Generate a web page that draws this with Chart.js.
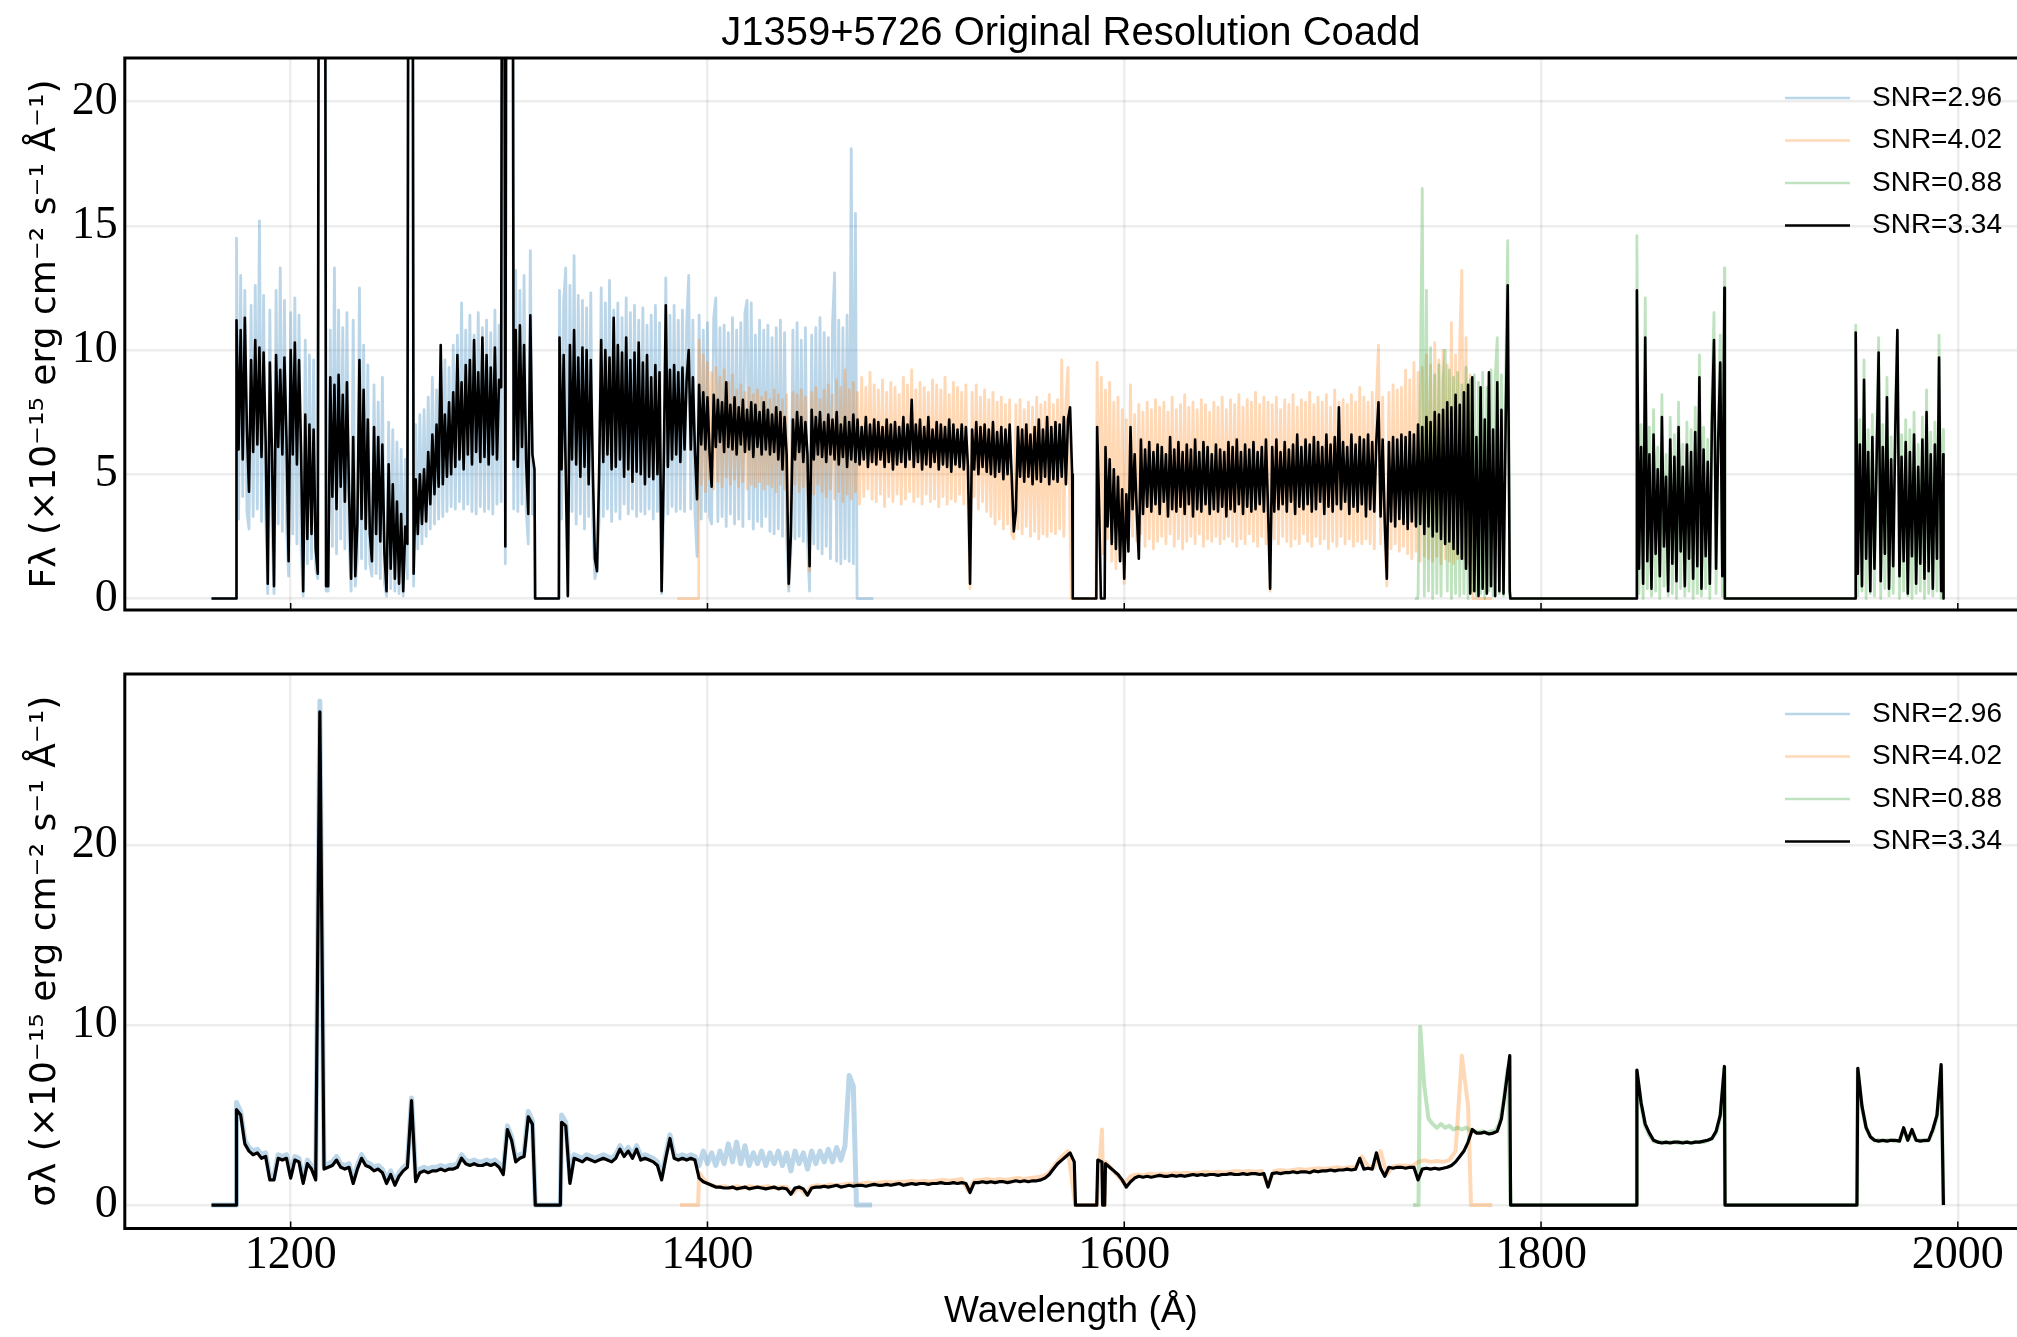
<!DOCTYPE html>
<html>
<head>
<meta charset="utf-8">
<script src="https://cdn.jsdelivr.net/npm/chart.js@4.4.0/dist/chart.umd.min.js"></script>
<style>
  html, body { margin: 0; padding: 0; background: #fff; }
  body { width: 2017px; height: 1337px; position: relative; overflow: hidden; }
  #fluxBox { position: absolute; left: 0; top: 0; width: 2017px; height: 640px; }
  #errBox { position: absolute; left: 0; top: 640px; width: 2017px; height: 697px; }
</style>
</head>
<body>
<div id="fluxBox"><canvas id="flux" width="2017" height="640"></canvas></div>
<div id="errBox"><canvas id="err" width="2017" height="697"></canvas></div>
<script>
// labels, ticks, colours
const legendLabels = ['SNR=2.96', 'SNR=4.02', 'SNR=0.88', 'SNR=3.34'];
const seriesColors = ['rgba(31,119,180,0.3)', 'rgba(255,127,14,0.3)', 'rgba(44,160,44,0.3)', '#000000'];
const xTicks = [1200, 1400, 1600, 1800, 2000];
const fluxTicks = [0, 5, 10, 15, 20];
const errTicks = [0, 10, 20];

// ---------- flux, 1 A sampling ----------
const fluxBlackA = [11.2, 6.0, 10.8, 5.6, 11.3, 6.8, 4.3, 9.6, 5.9, 10.4,
  6.2, 10.1, 5.7, 9.9, 6.3, 0.6, 9.5, 6.0, 0.5, 9.8,
  6.1, 9.2, 5.8, 9.7, 6.4, 1.5, 10.0, 5.8, 10.3, 5.4,
  9.6, 5.9, 0.3, 7.4, 2.4, 7.0, 2.6, 6.8, 2.0, 1.0,
  60, 60, 60, 0.5, 0.5, 8.9, 4.1, 8.6, 3.6, 9.0,
  4.5, 8.2, 3.9, 8.7, 4.3, 0.8, 6.5, 0.9, 3.0, 9.6,
  3.2, 8.4, 2.8, 7.2, 2.6, 1.5, 6.9, 2.6, 6.5, 2.3,
  6.2, 1.8, 0.3, 5.4, 1.2, 4.6, 0.8, 3.9, 0.6, 3.4,
  0.3, 2.9, 2.2, 60, 60, 1.0, 4.8, 2.6, 5.0, 3.0,
  5.2, 3.1, 5.9, 3.8, 6.6, 4.2, 7.0, 4.5, 10.2, 4.6,
  7.4, 4.9, 7.9, 5.0, 8.3, 5.3, 9.8, 5.6, 8.7, 5.2,
  9.4, 5.8, 9.6, 5.4, 10.4, 5.9, 9.1, 5.5, 10.5, 5.7,
  9.8, 5.4, 9.3, 5.8, 10.1, 5.6, 8.8, 8.5, 60, 2.1,
  60, 60, 60, 5.6, 10.8, 5.3, 11.0, 6.1, 10.2, 5.5,
  3.4, 11.4, 5.8, 5.2];
const fluxBlackB = [10.5, 5.2, 9.8, 5.0, 0.1, 10.2, 5.6, 10.8, 5.4, 9.7,
  4.9, 10.1, 5.3, 10.0, 4.6, 9.6, 5.1, 1.6, 1.1, 5.0,
  10.4, 5.5, 10.0, 5.8, 9.7, 5.2, 11.3, 5.3, 10.2, 5.6,
  9.9, 4.9, 10.5, 5.2, 9.6, 4.7, 9.9, 5.1, 10.3, 5.0,
  9.5, 4.6, 9.8, 4.9, 8.9, 4.8, 9.4, 5.0, 9.1, 0.3,
  5.2, 11.8, 5.3, 9.2, 5.6, 9.4, 5.8, 9.1, 5.5, 9.3,
  6.0, 8.8, 10.0, 6.0, 8.9, 5.9, 4.0, 8.6, 6.2, 8.3,
  6.0, 8.1, 5.9, 4.5, 8.2, 6.1, 8.0, 6.3, 7.9, 5.9,
  8.7, 6.1, 7.8, 6.0, 8.1, 5.8, 7.7, 6.2, 8.0, 5.9,
  7.6, 6.0, 7.9, 5.7, 7.8, 6.1, 7.5, 5.8, 7.9, 6.0,
  7.6, 5.8, 7.4, 5.9, 7.7, 5.6, 7.5, 5.2, 7.3, 5.8,
  0.6, 2.5, 7.2, 5.6, 7.5, 5.9, 7.3, 5.5, 7.1, 5.8,
  1.3, 7.6, 5.6, 7.3, 5.8, 7.5, 5.7, 7.1, 5.5, 7.4,
  5.8, 7.2, 5.6, 7.5, 5.4, 7.0, 5.7, 7.3, 5.3, 7.1,
  5.6, 7.4, 5.5, 7.2, 5.4, 6.9, 5.6, 7.3, 5.3, 7.0,
  5.5, 7.2, 5.4, 7.1, 5.6, 6.9, 5.3, 7.2, 5.5, 7.0,
  5.2, 7.1, 5.4, 6.9, 5.5, 7.3, 5.3, 7.0, 5.6, 8.0,
  5.3, 7.0, 5.5, 7.2, 5.2, 6.9, 5.4, 7.3, 5.3, 6.8,
  5.5, 7.1, 5.2, 7.0, 5.4, 6.9, 5.3, 7.2, 5.1, 7.0,
  5.4, 6.8, 5.3, 7.0, 5.2, 6.9, 5.3, 0.6, 6.8, 5.2,
  7.1, 5.0, 6.9, 5.3, 7.0, 5.1, 6.8, 5.0, 7.1, 4.9,
  6.7, 5.1, 6.9, 4.8, 6.8, 5.0, 7.0, 4.9, 2.7, 3.5,
  6.9, 4.9, 6.8, 4.7, 7.0, 4.9, 6.6, 4.6, 6.9, 4.8,
  7.2, 4.7, 6.8, 4.9, 7.3, 4.6, 6.9, 4.8, 7.1, 4.7,
  7.0, 4.9, 7.3, 4.6, 7.2, 7.7, 5.0];
const fluxBlackBlip = [6.9, 3.5];
const fluxBlackC = [6.1, 2.9, 5.6, 2.2, 5.2, 2.0, 4.9, 1.5, 4.4, 0.8,
  4.2, 1.9, 6.9, 3.6, 5.8, 3.5, 1.6, 6.4, 3.4, 6.0,
  3.7, 6.3, 3.5, 5.9, 3.8, 6.2, 3.4, 6.1, 3.9, 5.8,
  3.3, 6.5, 3.6, 6.0, 3.5, 6.3, 3.7, 5.9, 3.4, 6.2,
  3.8, 6.0, 3.3, 6.4, 3.6, 5.9, 3.5, 6.3, 3.8, 6.1,
  3.4, 5.8, 3.6, 6.2, 3.5, 6.0, 3.7, 5.9, 3.3, 6.3,
  3.6, 6.1, 3.5, 6.4, 3.8, 5.9, 3.4, 6.2, 3.7, 6.0,
  3.5, 6.3, 3.6, 5.9, 3.8, 6.1, 3.5, 6.4, 3.6, 0.4,
  6.1, 3.5, 6.4, 3.6, 5.9, 3.8, 6.3, 3.5, 6.0, 3.9,
  6.2, 3.4, 6.6, 3.7, 6.1, 3.6, 6.4, 3.8, 6.2, 3.5,
  6.5, 3.6, 6.3, 3.9, 6.1, 3.4, 6.6, 3.7, 6.2, 3.5,
  6.5, 3.8, 7.7, 3.6, 6.3, 3.9, 6.1, 3.4, 6.6, 3.7,
  6.2, 3.5, 6.5, 3.8, 6.4, 3.3, 6.6, 3.6, 6.3, 3.5,
  6.4, 7.9, 3.3, 6.4, 3.1, 0.8, 6.3, 3.1, 6.5, 2.9,
  6.4, 3.2, 6.6, 3.0, 6.5, 2.8, 6.7, 3.1, 6.6, 2.9,
  7.0, 3.0, 6.9, 2.6, 7.3, 2.9, 7.1, 2.5, 7.5, 2.7,
  7.4, 2.4, 7.6, 2.2, 7.9, 2.3, 7.7, 2.0, 8.2, 1.8,
  7.8, 1.6, 8.3, 1.2, 8.6, 0.2, 8.9, 0.3, 6.5, 0.1,
  8.5, 0.4, 7.2, 0.2, 9.1, 0.5, 6.8, 0.1, 8.7, 0.3,
  7.6, 0.2, 6.9, 12.6, 0.3];
const fluxBlackD = [12.4, 1.2, 6.1, 0.6, 10.5, 1.5, 5.8, 0.4, 6.6, 1.8, 5.2, 0.9, 7.3, 2.1, 4.9,
  0.3, 6.4, 1.4, 5.7, 0.7, 6.9, 1.9, 5.3, 0.5, 6.2, 1.6, 5.9, 0.8, 6.7, 1.3,
  8.9, 0.4, 6.0, 1.7, 5.5, 0.6, 7.1, 10.4, 1.2, 6.3, 9.5, 0.9, 12.5];
const fluxBlackE = [10.7, 1.0, 6.2, 0.5, 8.8, 1.6, 5.9, 0.3, 6.5, 1.2, 5.4, 9.9, 0.7, 6.1, 1.8,
  8.1, 0.4, 5.6, 1.3, 6.8, 10.8, 0.9, 5.7, 1.5, 6.3, 0.2, 5.9, 1.7, 6.6, 0.6,
  5.3, 1.4, 6.4, 0.8, 7.5, 1.1, 5.8, 0.4, 6.2, 1.6, 9.7, 0.3, 5.8];

const fluxBlueA = [14.5, 3.2, 13.0, 4.1, 12.4, 3.5, 2.8, 11.8, 3.3, 12.6,
  3.6, 15.2, 3.1, 12.2, 3.4, 0.2, 11.6, 2.9, 0.2, 12.4,
  3.0, 13.3, 2.7, 12.0, 2.9, 0.9, 11.5, 2.6, 12.1, 2.2,
  11.4, 2.0, 0.1, 10.4, 1.4, 9.8, 1.6, 9.6, 1.2, 0.8,
  60, 60, 60, 0.3, 0.3, 10.8, 2.1, 13.3, 1.8, 11.6,
  2.4, 10.9, 2.0, 11.5, 2.3, 0.3, 11.2, 0.5, 1.6, 12.5,
  1.6, 10.2, 1.2, 9.4, 1.4, 0.9, 8.6, 1.0, 7.9, 0.8,
  8.9, 0.6, 0.1, 7.1, 0.4, 6.8, 0.3, 6.3, 0.2, 6.0,
  0.1, 5.6, 0.8, 60, 60, 0.5, 7.0, 2.0, 7.4, 2.2,
  7.6, 2.5, 8.1, 2.8, 8.9, 3.0, 8.4, 3.2, 9.2, 3.3,
  9.6, 3.5, 9.3, 3.7, 10.2, 3.6, 10.6, 3.9, 11.9, 3.6,
  10.8, 3.8, 11.4, 3.5, 10.6, 3.4, 11.5, 3.7, 10.9, 3.5,
  11.2, 3.6, 10.7, 3.4, 11.6, 3.8, 11.0, 3.9, 60, 1.4,
  60, 60, 60, 3.6, 13.2, 3.5, 12.4, 3.8, 13.0, 3.6,
  2.2, 14.0, 3.4, 3.8];
const fluxBlueB = [12.4, 3.2, 12.0, 13.3, 0.1, 12.6, 3.5, 13.8, 3.0, 12.2,
  3.4, 12.0, 2.8, 11.7, 3.3, 12.3, 2.9, 0.8, 1.2, 3.1,
  12.5, 3.3, 11.9, 3.6, 12.8, 3.1, 11.6, 3.5, 11.9, 3.2,
  11.3, 3.8, 12.1, 3.4, 11.5, 3.6, 11.8, 3.3, 11.2, 3.5,
  11.7, 3.4, 11.0, 3.6, 11.4, 3.2, 11.8, 3.5, 11.1, 0.2,
  3.5, 12.9, 3.4, 11.4, 3.7, 11.8, 3.5, 11.2, 3.6, 11.6,
  3.5, 11.0, 13.0, 3.6, 11.2, 3.4, 1.7, 11.4, 3.2, 10.8,
  3.5, 11.1, 3.3, 3.0, 11.3, 12.1, 3.1, 10.9, 3.3, 11.0,
  2.9, 10.7, 3.4, 11.3, 3.0, 10.8, 3.2, 11.1, 2.9, 11.5,
  12.0, 3.2, 11.9, 2.8, 10.6, 3.1, 11.2, 2.9, 10.8, 3.3,
  11.0, 2.7, 10.5, 2.6, 10.9, 2.8, 11.2, 2.5, 10.7, 2.4,
  0.3, 1.8, 10.8, 2.4, 11.1, 2.5, 10.4, 2.3, 10.9, 2.2,
  0.3, 10.6, 2.2, 10.9, 2.0, 11.3, 1.8, 10.7, 2.1, 10.5,
  1.6, 11.0, 13.1, 1.5, 11.2, 1.4, 10.9, 1.6, 11.4, 1.5,
  18.1, 1.4, 15.5];

const fluxOrangeA = [10.4, 4.6, 9.8, 4.3, 9.5, 4.8, 9.1, 4.4, 9.3, 4.7,
  8.9, 4.5, 9.2, 4.9, 8.7, 4.6, 9.0, 4.8, 8.4, 4.5,
  8.6, 4.7, 8.3, 4.4, 8.5, 4.6, 8.2, 4.5, 8.4, 4.7,
  8.1, 4.4, 8.3, 4.6, 8.0, 4.5, 8.4, 4.3, 8.2, 4.6,
  8.0, 4.4, 8.2, 0.5, 4.2, 8.3, 4.6, 8.2, 4.3, 8.4,
  4.5, 8.1, 4.4, 1.1, 8.3, 4.2, 8.5, 4.6, 8.0, 4.3,
  8.4, 4.1, 8.6, 4.4, 8.2, 4.0, 8.8, 4.3, 8.5, 3.9,
  9.2, 4.2, 8.4, 4.0, 8.7, 4.3, 8.3, 3.8, 8.9, 4.1,
  8.5, 4.4, 9.1, 4.0, 8.6, 3.9, 8.4, 4.2, 8.8, 3.7,
  8.3, 4.1, 8.7, 3.9, 8.5, 4.2, 8.2, 3.8, 8.9, 4.0,
  8.6, 4.3, 9.2, 3.9, 8.4, 4.1, 8.7, 3.8, 8.5, 4.2,
  8.3, 3.9, 8.8, 4.0, 8.6, 3.7, 8.4, 4.1, 8.9, 3.8,
  8.2, 4.0, 8.7, 3.9, 8.5, 4.2, 8.3, 3.8, 8.6, 4.0,
  0.4, 8.3, 4.1, 8.6, 3.6, 8.1, 3.9, 8.4, 3.5, 8.0,
  3.3, 8.3, 3.0, 7.9, 3.2, 8.1, 2.8, 7.8, 3.0, 8.0,
  2.6, 2.4, 7.8, 2.8, 8.0, 2.6, 7.6, 2.9, 7.9, 2.5,
  7.7, 2.7, 8.1, 2.4, 7.8, 2.6, 7.9, 2.5, 8.2, 2.7,
  7.8, 2.6, 8.0, 2.8, 9.6, 2.5, 7.9, 9.3, 2.8];
const fluxOrangeB = [9.5, 3.0, 8.9, 1.8, 8.4, 2.4, 8.7, 1.5, 7.9, 1.2,
  8.1, 1.6, 7.6, 0.6, 7.2, 2.2, 8.6, 2.5, 7.4, 2.3,
  7.8, 2.6, 7.5, 2.1, 7.9, 2.4, 7.6, 2.0, 8.0, 2.3,
  7.7, 2.5, 7.9, 2.2, 7.5, 2.6, 8.1, 2.1, 7.6, 2.4,
  7.8, 2.0, 8.2, 2.3, 7.7, 2.5, 7.9, 2.2, 7.6, 2.6,
  8.0, 2.1, 7.8, 2.4, 7.5, 2.3, 7.9, 2.5, 7.7, 2.2,
  8.1, 2.4, 7.6, 2.5, 8.0, 2.3, 7.8, 2.1, 8.2, 2.4,
  7.7, 2.2, 8.0, 2.6, 7.9, 2.3, 8.3, 2.1, 7.8, 2.5,
  8.1, 2.2, 7.9, 0.3, 7.8, 2.4, 8.1, 2.2, 7.6, 2.5,
  8.0, 2.3, 7.8, 2.1, 8.2, 2.4, 7.7, 2.2, 8.0, 2.6,
  7.9, 2.3, 8.3, 2.1, 7.8, 2.5, 8.1, 2.2, 7.9, 2.4,
  8.2, 2.0, 7.7, 2.3, 8.4, 2.1, 7.9, 2.5, 8.0, 2.2,
  7.8, 2.4, 8.2, 2.1, 7.9, 2.3, 8.5, 2.2, 8.1, 2.4,
  7.9, 2.2, 8.3, 2.0, 8.0, 10.2, 2.2, 8.1, 2.4, 0.5,
  8.3, 2.0, 8.6, 2.2, 8.4, 1.9, 8.5, 2.1, 9.2, 1.8,
  8.8, 1.6, 9.5, 1.9, 9.1, 1.5, 9.3, 1.7, 9.8, 1.6,
  9.4, 1.5, 10.3, 1.7, 9.6, 1.4, 10.0, 1.6, 9.4, 1.5,
  11.1, 1.4, 9.8, 1.6, 10.4, 13.2, 1.6, 10.5, 1.4, 9.0,
  0.8];

const fluxGreenA = [0.2, 8.0, 16.5, 0.1, 12.4, 0.3, 10.1, 0.0, 9.0, 0.2,
  9.4, 0.1, 8.8, 10.0, 0.3, 9.2, 0.0, 8.9, 0.2, 9.1,
  0.1, 8.6, 0.2, 9.3, 0.0, 8.8, 0.3, 9.0, 0.1, 8.7,
  0.2, 9.1, 0.0, 8.5, 0.3, 9.2, 0.1, 8.9, 10.5, 0.2,
  9.0, 0.1, 8.8, 14.4, 0.2];
const fluxGreenB = [14.6, 0.2, 7.0, 0.0, 12.1, 0.4, 6.9, 0.1, 7.6, 0.3, 6.1, 0.0, 8.2, 0.5, 5.8,
  0.1, 7.3, 0.2, 6.6, 0.0, 7.9, 0.4, 6.2, 0.1, 7.1, 0.3, 6.8, 0.0, 7.7, 0.2,
  9.8, 0.1, 6.9, 0.4, 6.4, 0.0, 8.0, 11.5, 0.2, 7.2, 10.6, 0.1, 13.3];
const fluxGreenC = [11.0, 0.1, 7.2, 0.3, 9.6, 0.0, 6.8, 0.2, 7.4, 0.1, 6.3, 10.5, 0.0, 7.0, 0.4,
  8.9, 0.1, 6.5, 0.2, 7.6, 10.8, 0.0, 6.6, 0.3, 7.2, 0.1, 6.8, 0.0, 7.5, 0.2,
  6.2, 0.3, 7.3, 0.0, 8.4, 0.2, 6.7, 0.1, 7.1, 0.3, 10.6, 0.0, 6.8];

// ---------- error, 2 A sampling (orange 3 A) ----------
const errBlackA = [5.3, 5.0, 3.4, 3.0, 2.8, 2.9, 2.6, 2.7, 1.4, 1.4,
  2.6, 2.5, 2.6, 1.5, 2.5, 2.4, 1.2, 2.3, 2.0, 1.4,
  27.4, 2.0, 2.1, 2.2, 2.5, 2.1, 2.0, 2.1, 1.2, 2.0,
  2.6, 2.2, 2.1, 1.9, 2.0, 1.8, 1.2, 1.7, 1.1, 1.6,
  1.9, 2.1, 5.8, 1.3, 1.8, 1.9, 1.8, 1.9, 1.9, 2.0,
  1.9, 2.0, 2.0, 2.1, 2.6, 2.3, 2.2, 2.3, 2.2, 2.2,
  2.3, 2.2, 2.3, 2.1, 1.7, 4.2, 3.6, 2.4, 2.6, 2.7,
  4.9, 4.5];
const errBlackB = [4.6, 4.4, 1.2, 2.6, 2.5, 2.4, 2.6, 2.5, 2.4, 2.5,
  2.6, 2.5, 2.4, 2.6, 3.1, 2.7, 3.0, 2.6, 3.1, 2.5,
  2.6, 2.5, 2.4, 2.2, 1.4, 2.6, 3.7, 2.6, 2.5, 2.6,
  2.5, 2.6, 2.5, 1.5, 1.3, 1.2, 1.1, 1.0, 1.0, 0.95,
  0.95, 1.0, 0.9, 0.95, 1.0, 0.9, 0.95, 1.0, 0.95, 0.9,
  0.95, 1.0, 0.9, 0.95, 0.9, 0.6, 0.95, 1.0, 0.9, 0.55,
  0.95, 1.0, 1.0, 1.05, 1.0, 1.05, 1.1, 1.0, 1.05, 1.1,
  1.05, 1.1, 1.1, 1.05, 1.1, 1.15, 1.1, 1.1, 1.15, 1.1,
  1.15, 1.2, 1.1, 1.15, 1.2, 1.15, 1.2, 1.2, 1.15, 1.2,
  1.2, 1.25, 1.2, 1.2, 1.25, 1.2, 1.25, 1.2, 0.7, 1.25,
  1.25, 1.3, 1.25, 1.3, 1.25, 1.3, 1.3, 1.25, 1.3, 1.35,
  1.3, 1.35, 1.3, 1.35, 1.35, 1.4, 1.5, 1.7, 2.0, 2.3,
  2.5, 2.7, 2.9, 2.4];
const errBlackBlip = [2.5, 2.4];
const errBlackC = [2.3, 2.1, 1.9, 1.7, 1.4, 1.0, 1.3, 1.5, 1.6, 1.55,
  1.6, 1.55, 1.6, 1.65, 1.6, 1.6, 1.65, 1.6, 1.65, 1.6,
  1.65, 1.7, 1.65, 1.7, 1.65, 1.7, 1.7, 1.65, 1.7, 1.7,
  1.75, 1.7, 1.7, 1.75, 1.7, 1.75, 1.75, 1.7, 1.75, 1.0,
  1.75, 1.8, 1.75, 1.8, 1.8, 1.85, 1.8, 1.85, 1.85, 1.8,
  1.9, 1.85, 1.9, 1.9, 1.95, 1.9, 1.95, 1.95, 2.0, 1.95,
  2.0, 2.6, 2.0, 2.05, 2.0, 2.9, 2.05, 1.6, 2.1, 2.05,
  2.1, 2.1, 2.05, 2.1, 2.1, 1.4, 2.0, 2.05, 2.0, 2.05,
  2.0, 2.05, 2.1, 2.2, 2.4, 2.7, 3.0, 3.5, 4.2, 4.0,
  4.0, 4.05, 3.95, 4.0, 4.1, 4.8, 6.5, 8.3];
const errBlackD = [7.5, 5.7, 4.5, 4.0, 3.6, 3.5, 3.45, 3.5, 3.45, 3.5, 3.5,
  3.45, 3.5, 3.45, 3.5, 3.5, 3.55, 3.6, 3.7, 4.1, 5.0, 7.7];
const errBlackE = [7.6, 5.5, 4.3, 3.8, 3.6, 3.55, 3.6, 3.55, 3.6, 3.6, 3.55,
  4.3, 3.6, 4.2, 3.6, 3.55, 3.6, 3.6, 4.2, 5.0, 7.8];

const errBlueA = [5.7, 5.2, 3.6, 3.2, 3.0, 3.1, 2.8, 2.9, 1.6, 1.6,
  2.8, 2.7, 2.8, 1.7, 2.7, 2.6, 1.4, 2.5, 2.2, 1.6,
  28.0, 2.2, 2.3, 2.4, 2.7, 2.3, 2.2, 2.3, 1.4, 2.2,
  2.8, 2.4, 2.3, 2.1, 2.2, 2.0, 1.4, 1.9, 1.3, 1.8,
  2.1, 2.3, 5.95, 1.5, 2.0, 2.1, 2.0, 2.1, 2.1, 2.2,
  2.1, 2.2, 2.2, 2.3, 2.8, 2.5, 2.4, 2.5, 2.4, 2.4,
  2.5, 2.4, 2.5, 2.3, 1.9, 4.4, 3.8, 2.6, 2.8, 2.9,
  5.2, 4.7];
const errBlueB = [5.0, 4.6, 1.4, 2.8, 2.7, 2.6, 2.8, 2.7, 2.6, 2.7,
  2.8, 2.7, 2.6, 2.8, 3.3, 2.9, 3.2, 2.8, 3.3, 2.7,
  2.8, 2.7, 2.6, 2.4, 1.6, 2.8, 3.9, 2.8, 2.7, 2.8,
  2.7, 2.8, 2.7, 2.2, 3.0, 2.3, 2.9, 2.2, 3.0, 2.3,
  3.4, 2.4, 3.5, 2.3, 3.3, 2.2, 2.9, 2.3, 3.0, 2.2,
  2.9, 2.3, 3.0, 2.2, 2.9, 1.9, 3.0, 2.3, 2.9, 2.0,
  3.0, 2.3, 3.0, 2.4, 3.1, 2.4, 3.2, 2.5, 3.3, 7.2,
  6.6];

const errOrangeA = [1.8, 1.3, 1.1, 1.0, 1.05, 0.95, 1.05, 0.95, 1.05, 1.0,
  1.0, 1.05, 0.95, 1.0, 1.0, 0.65, 1.0, 0.6, 1.05, 1.1,
  1.05, 1.15, 1.1, 1.15, 1.2, 1.15, 1.2, 1.25, 1.2, 1.25,
  1.3, 1.25, 1.3, 1.3, 1.35, 1.3, 1.35, 1.3, 1.35, 1.4,
  1.35, 1.4, 1.45, 0.8, 1.35, 1.4, 1.45, 1.4, 1.45, 1.4,
  1.45, 1.5, 1.45, 1.5, 1.55, 1.6, 1.8, 2.3, 2.7, 3.0];
const errOrangeBlip = [4.2];
const errOrangeB = [2.4, 2.0, 1.6, 1.2, 1.6, 1.7, 1.65, 1.75, 1.7, 1.75,
  1.7, 1.8, 1.75, 1.8, 1.75, 1.8, 1.85, 1.8, 1.85, 1.8,
  1.85, 1.9, 1.85, 1.9, 1.85, 1.9, 1.1, 1.9, 1.95, 1.9,
  1.95, 2.0, 1.95, 2.0, 2.05, 2.0, 2.05, 2.1, 2.05, 2.1,
  2.1, 2.7, 2.15, 2.1, 3.0, 1.7, 2.15, 2.2, 2.2, 2.15,
  2.4, 2.5, 2.4, 2.45, 2.4, 2.5, 3.0, 8.3, 5.5];

const errGreenA = [9.9, 6.6, 4.8, 4.5, 4.3, 4.5, 4.3, 4.4, 4.2, 4.3, 4.2,
  4.3, 4.15, 4.1, 4.05, 4.1, 4.0, 4.1, 4.1, 4.5, 5.7, 7.6];
const errGreenB = [7.4, 5.6, 4.4, 3.9, 3.55, 3.5, 3.5, 3.45, 3.5, 3.5, 3.45,
  3.5, 3.5, 3.45, 3.5, 3.5, 3.5, 3.6, 3.7, 4.0, 4.9, 7.6];
const errGreenC = [7.5, 5.4, 4.3, 3.8, 3.6, 3.6, 3.55, 3.6, 3.6, 3.55, 3.6,
  4.2, 3.6, 4.1, 3.6, 3.6, 3.55, 3.6, 4.1, 4.9, 7.7];

// each piece: [from, to] = zero stretch, [start, values] = sampled stretch
const fluxBlueLayout = [[1162, 1173.9], [1174, fluxBlueA], [1317.3, 1328.7], [1329, fluxBlueB], [1471.8, 1479.6]];
const fluxOrangeLayout = [[1385.5, 1395.8], [1396, fluxOrangeA], [1574.6, 1586.4], [1587, fluxOrangeB], [1767.3, 1776.5]];
const fluxGreenLayout = [[1739.5, 1740.8], [1741, fluxGreenA], [1785.3, 1845.9], [1846, fluxGreenB],
  [1888.2, 1950.9], [1951, fluxGreenC], [1993.1, 1993.2]];
const fluxBlackLayout = [[1162, 1173.9], [1174, fluxBlackA], [1317.3, 1328.7], [1329, fluxBlackB],
  [1575.3, 1586.6], [1587, fluxBlackBlip], [1588.8, 1590.6], [1591, fluxBlackC], [1785.3, 1845.9],
  [1846, fluxBlackD], [1888.2, 1950.9], [1951, fluxBlackE], [1993.1, 1993.2]];

const errBlueLayout = [[1162, 1173.9], [1174, errBlueA], [1317.4, 1329.4], [1330, errBlueB], [1471.5, 1479]];
const errOrangeLayout = [[1386.8, 1395.5], [1396, errOrangeA], [1576.5, 1586.8], [1589.3, errOrangeBlip],
  [1590, 1590.6], [1591, errOrangeB], [1766.4, 1776.6]];
const errGreenLayout = [[1738.6, 1741.2], [1742, errGreenA], [1785.4, 1845.6], [1846, errGreenB],
  [1888.3, 1951.6], [1952, errGreenC], [1993.1, 1993.2]];
const errBlackLayout = [[1162, 1173.9], [1174, errBlackA], [1317.4, 1329.4], [1330, errBlackB],
  [1576.6, 1586.8], [1587.3, errBlackBlip], [1589.6, 1590.6], [1591, errBlackC], [1785.4, 1845.6],
  [1846, errBlackD], [1888.3, 1951.6], [1952, errBlackE], [1993.1, 1993.2]];

function build(layout, step) {
  const pts = [];
  layout.forEach(([a, b]) => {
    if (Array.isArray(b)) b.forEach((v, i) => pts.push({x: a + i * step, y: v}));
    else pts.push({x: a, y: 0}, {x: b, y: 0});
  });
  return pts;
}

function line(label, pts, color, width, order) {
  return {
    label, data: pts, borderColor: color, borderWidth: width, order,
    pointRadius: 0, tension: 0, fill: false, borderJoinStyle: 'round'
  };
}

const gridStyle = { color: 'rgba(0,0,0,0.07)', lineWidth: 2.5, drawTicks: false };

// axes frame (top, left, bottom) with inward x ticks
const framePlugin = {
  id: 'frame',
  afterDatasetsDraw(chart) {
    const {ctx, chartArea: a, scales} = chart;
    ctx.save();
    ctx.strokeStyle = '#000';
    ctx.lineWidth = 3;
    ctx.beginPath();
    ctx.moveTo(chart.width, a.top);
    ctx.lineTo(a.left, a.top);
    ctx.lineTo(a.left, a.bottom);
    ctx.lineTo(chart.width, a.bottom);
    ctx.stroke();
    ctx.lineWidth = 1.5;
    xTicks.forEach(v => {
      const px = scales.x.getPixelForValue(v);
      ctx.beginPath();
      ctx.moveTo(px, a.bottom);
      ctx.lineTo(px, a.bottom - 7);
      ctx.stroke();
    });
    ctx.restore();
  }
};

const legendPlugin = {
  id: 'snrLegend',
  afterDraw(chart) {
    const {ctx, chartArea: a} = chart;
    ctx.save();
    ctx.font = '28px "Liberation Sans", Arial, sans-serif';
    ctx.textBaseline = 'middle';
    legendLabels.forEach((t, i) => {
      const y = a.top + 40 + i * 42.5;
      ctx.strokeStyle = seriesColors[i];
      ctx.lineWidth = 2.5;
      ctx.beginPath();
      ctx.moveTo(1785, y);
      ctx.lineTo(1850, y);
      ctx.stroke();
      ctx.fillStyle = '#000';
      ctx.fillText(t, 1872, y);
    });
    ctx.restore();
  }
};

function makeOptions(cfg) {
  return {
    responsive: false,
    devicePixelRatio: 1,
    animation: false,
    events: [],
    parsing: false,
    normalized: true,
    layout: { padding: { top: cfg.padTop, left: 0, right: 0, bottom: 0 } },
    plugins: {
      legend: { display: false },
      tooltip: { enabled: false },
      title: cfg.title ? {
        display: true, text: cfg.title, fullSize: false, color: '#000',
        font: { family: '"Liberation Sans", Arial, sans-serif', size: 40, weight: 'normal', lineHeight: 1.2 },
        padding: { top: 10, bottom: 0 }
      } : { display: false }
    },
    scales: {
      x: {
        type: 'linear', min: 1120.4, max: 2028.4,
        afterBuildTicks: s => { s.ticks = xTicks.map(v => ({value: v})); },
        afterFit: s => { s.height = cfg.xHeight; },
        grid: gridStyle,
        border: { display: false },
        ticks: {
          display: cfg.showX, color: '#000', padding: 4, maxRotation: 0, autoSkip: false,
          callback: v => String(v),
          font: { family: '"Liberation Serif", "Times New Roman", serif', size: 46, lineHeight: 1 }
        },
        title: {
          display: cfg.showX, text: 'Wavelength (Å)', color: '#000',
          font: { family: '"Liberation Sans", Arial, sans-serif', size: 37, lineHeight: 1.2 },
          padding: { top: 0, bottom: 3 }
        }
      },
      y: {
        min: cfg.yMin, max: cfg.yMax,
        afterBuildTicks: s => { s.ticks = cfg.yTicks.map(v => ({value: v})); },
        afterFit: s => { s.width = 124.8; },
        grid: gridStyle,
        border: { display: false },
        ticks: {
          color: '#000', padding: 7,
          callback: v => String(v),
          font: { family: '"Liberation Serif", "Times New Roman", serif', size: 46, lineHeight: 1 }
        },
        title: {
          display: true, text: cfg.yTitle, color: '#000',
          font: { family: '"DejaVu Sans", sans-serif', size: 36, lineHeight: 1.2 },
          padding: { top: 24, bottom: 0 }
        }
      }
    }
  };
}

new Chart(document.getElementById('flux'), {
  type: 'line',
  data: {
    datasets: [
      line(legendLabels[0], build(fluxBlueLayout, 1), seriesColors[0], 2.8, 4),
      line(legendLabels[1], build(fluxOrangeLayout, 1), seriesColors[1], 2.8, 3),
      line(legendLabels[2], build(fluxGreenLayout, 1), seriesColors[2], 2.8, 2),
      line(legendLabels[3], build(fluxBlackLayout, 1), seriesColors[3], 2.6, 1)
    ]
  },
  options: makeOptions({
    title: 'J1359+5726 Original Resolution Coadd', padTop: 0, xHeight: 27.7, showX: false,
    yMin: -0.46, yMax: 21.75, yTicks: fluxTicks,
    yTitle: 'Fλ (×10⁻¹⁵ erg cm⁻² s⁻¹ Å⁻¹)'
  }),
  plugins: [framePlugin, legendPlugin]
});

new Chart(document.getElementById('err'), {
  type: 'line',
  data: {
    datasets: [
      line(legendLabels[0], build(errBlueLayout, 2), seriesColors[0], 5, 4),
      line(legendLabels[1], build(errOrangeLayout, 3), seriesColors[1], 4, 3),
      line(legendLabels[2], build(errGreenLayout, 2), seriesColors[2], 4, 2),
      line(legendLabels[3], build(errBlackLayout, 2), seriesColors[3], 3.2, 1)
    ]
  },
  options: makeOptions({
    title: null, padTop: 34, xHeight: 108.5, showX: true,
    yMin: -1.3, yMax: 29.5, yTicks: errTicks,
    yTitle: 'σλ (×10⁻¹⁵ erg cm⁻² s⁻¹ Å⁻¹)'
  }),
  plugins: [framePlugin, legendPlugin]
});
</script>
</body>
</html>
